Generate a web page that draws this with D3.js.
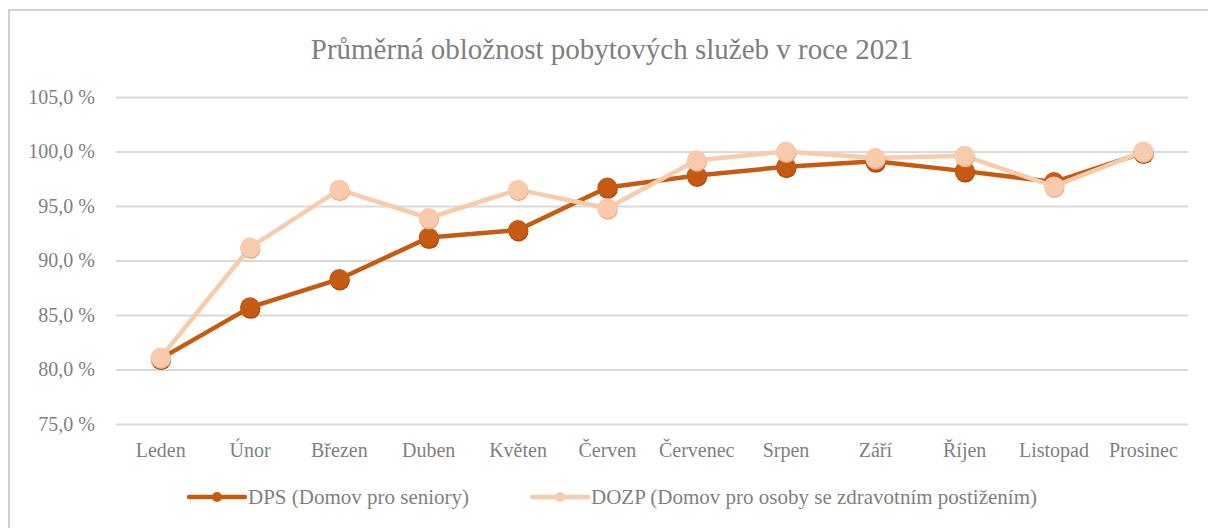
<!DOCTYPE html>
<html>
<head>
<meta charset="utf-8">
<script src="https://cdn.jsdelivr.net/npm/d3@7"></script>
<style>
  body { margin: 0; background: #fff; }
</style>
</head>
<body>
<div id="chart"></div>
<script>
////// DATA
var months = ["Leden", "Únor", "Březen", "Duben", "Květen", "Červen", "Červenec", "Srpen", "Září", "Říjen", "Listopad", "Prosinec"];
var dpsValues = [81.0, 85.7, 88.3, 92.1, 92.8, 96.7, 97.8, 98.6, 99.1, 98.2, 97.2, 99.9];
var dozpValues = [81.1, 91.2, 96.5, 93.9, 96.5, 94.8, 99.2, 100.0, 99.4, 99.6, 96.8, 100.0];
var yTicks = [75, 80, 85, 90, 95, 100, 105];
var seriesNames = ["DPS (Domov pro seniory)", "DOZP (Domov pro osoby se zdravotním postižením)"];
var seriesColors = ["#c55a11", "#f8cbad"];

var serif = "'Liberation Serif', 'Times New Roman', serif";
var textGray = "#7f7f7f";

////// SETUP SVG
var width = 1208, height = 528;

var svg = d3.select("#chart")
    .append("svg")
    .attr("width", width)
    .attr("height", height);

// chart border (runs off the right and bottom edges)
svg.append("rect")
    .attr("x", 9).attr("y", 10)
    .attr("width", 1220).attr("height", 540)
    .attr("fill", "none")
    .attr("stroke", "#d0d0d0")
    .attr("stroke-width", 2);

// title
svg.append("text")
    .attr("x", 612).attr("y", 59)
    .attr("text-anchor", "middle")
    .style("font-family", serif)
    .style("font-size", "29px")
    .attr("fill", textGray)
    .text("Průměrná obložnost pobytových služeb v roce 2021");

////// SCALES
var x = d3.scaleBand()
    .domain(months)
    .range([116, 1188]);

var y = d3.scaleLinear()
    .domain([75, 105])
    .range([424, 97]);

// gridlines
svg.append("g")
    .selectAll("line")
    .data(yTicks)
    .enter()
    .append("line")
    .attr("x1", 116).attr("x2", 1188)
    .attr("y1", function(d) { return y(d) + 0.5; })
    .attr("y2", function(d) { return y(d) + 0.5; })
    .attr("stroke", "#d9d9d9")
    .attr("stroke-width", 2);

// Y axis
var yAxis = svg.append("g")
    .attr("transform", "translate(116,0)")
    .call(d3.axisLeft(y).tickValues(yTicks).tickSize(0).tickPadding(21)
        .tickFormat(function(d) { return d.toFixed(1).replace(".", ",") + " %"; }));
yAxis.select(".domain").remove();
yAxis.selectAll("text")
    .style("font-family", serif)
    .style("font-size", "20px")
    .attr("fill", textGray);

// X axis
var xAxis = svg.append("g")
    .attr("transform", "translate(0,424)")
    .call(d3.axisBottom(x).tickSize(0).tickPadding(19));
xAxis.select(".domain").remove();
xAxis.selectAll("text")
    .style("font-family", serif)
    .style("font-size", "20px")
    .attr("fill", textGray);

////// LINES
var series = [dpsValues, dozpValues];
var line = d3.line()
    .x(function(d, i) { return x(months[i]) + x.bandwidth() / 2; })
    .y(function(d) { return y(d); });

series.forEach(function(vals, s) {
    var g = svg.append("g");
    g.append("path")
        .datum(vals)
        .attr("d", line)
        .attr("fill", "none")
        .attr("stroke", seriesColors[s])
        .attr("stroke-width", 4.5)
        .attr("stroke-linejoin", "round");
    // slight shadow under markers
    g.selectAll("circle.shadow")
        .data(vals)
        .enter()
        .append("circle")
        .attr("class", "shadow")
        .attr("cx", function(d, i) { return x(months[i]) + x.bandwidth() / 2 + 0.5; })
        .attr("cy", function(d) { return y(d) + 1.5; })
        .attr("r", 10)
        .attr("fill", s === 0 ? "#a84a0c" : "#e8b08c");
    g.selectAll("circle.dot")
        .data(vals)
        .enter()
        .append("circle")
        .attr("class", "dot")
        .attr("cx", function(d, i) { return x(months[i]) + x.bandwidth() / 2; })
        .attr("cy", function(d) { return y(d); })
        .attr("r", 10)
        .attr("fill", seriesColors[s]);
});

////// LEGEND
var legendX = [189, 532];
var legend = svg.append("g");
seriesNames.forEach(function(name, s) {
    var lx = legendX[s], ly = 497;
    legend.append("line")
        .attr("x1", lx).attr("x2", lx + 56)
        .attr("y1", ly).attr("y2", ly)
        .attr("stroke", seriesColors[s])
        .attr("stroke-width", 4.5)
        .attr("stroke-linecap", "round");
    legend.append("circle")
        .attr("cx", lx + 28).attr("cy", ly)
        .attr("r", 5)
        .attr("fill", seriesColors[s]);
    legend.append("text")
        .attr("x", lx + 59).attr("y", ly + 7)
        .style("font-family", serif)
        .style("font-size", "21px")
        .attr("fill", textGray)
        .text(name);
});
</script>
</body>
</html>
